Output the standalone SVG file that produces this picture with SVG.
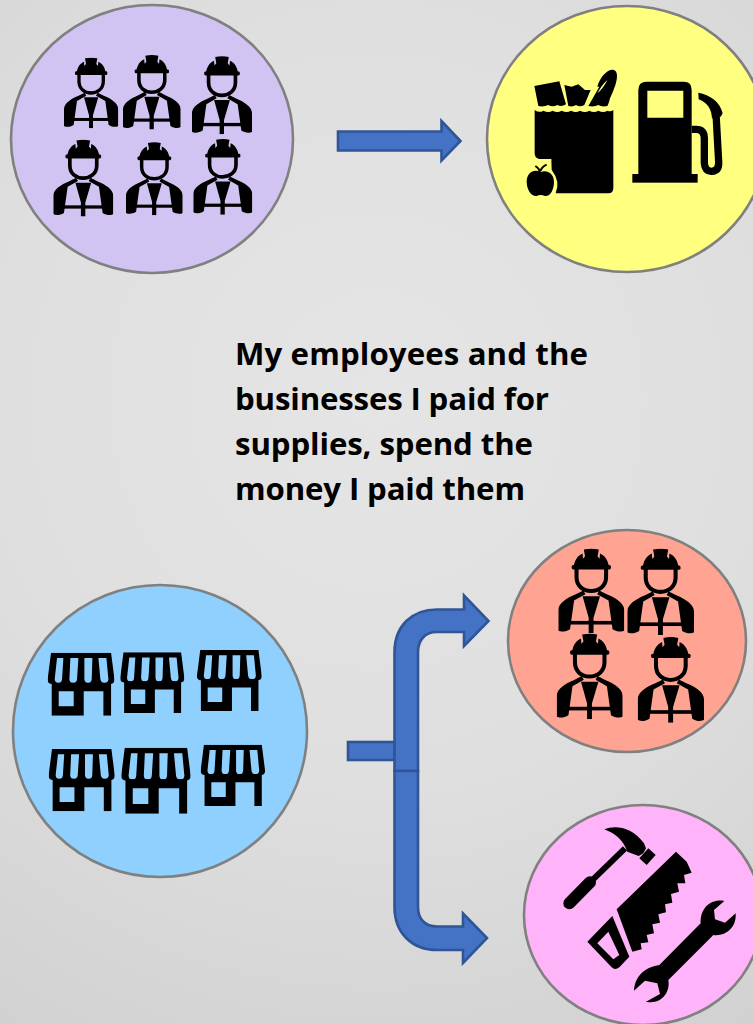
<svg xmlns="http://www.w3.org/2000/svg" width="753" height="1024" viewBox="0 0 753 1024">
<style>
.c{stroke:#808080;stroke-width:2.6}
.a{fill:#4472c4;stroke:#2f5597;stroke-width:2.6;stroke-linejoin:miter}
.t{font-family:"Open Sans","Liberation Sans",sans-serif;font-weight:700;font-size:31.2px;fill:#000}
.k{fill:#000}
</style>
<defs>
<radialGradient id="bg" gradientUnits="userSpaceOnUse" cx="376" cy="400" r="760">
<stop offset="0" stop-color="#e5e5e5"/><stop offset="0.5" stop-color="#dfdfdf"/><stop offset="1" stop-color="#d0d0d0"/>
</radialGradient>
<symbol id="worker" viewBox="0 0 163 213" preserveAspectRatio="none">
<path class="k" d="M38,46C40,30 48,18 60,13L61,26L66,20L63,3Q82,-1 100,3L97,20L102,26L103,13C115,18 123,30 125,46Z"/>
<rect class="k" x="33" y="42" width="97" height="11" rx="4"/>
<path d="M45,50V72C45,95 62,107 81,107C100,107 118,95 118,72V50" fill="none" stroke="#000" stroke-width="10"/>
<path class="k" d="M0,206V155C0,138 22,124 42,116L62,106L67,115L39,131L29,203C18,210 6,210 0,206Z"/>
<path class="k" d="M163,206V155C163,138 141,124 121,116L101,106L96,115L124,131L134,203C145,210 157,210 163,206Z"/>
<path class="k" d="M60,120H103L87,174V213H75V174Z"/>
<rect class="k" x="25" y="182" width="113" height="9"/>
</symbol>
<symbol id="shop" viewBox="0 0 200 189" preserveAspectRatio="none">
<path class="k" fill-rule="evenodd" d="M10,0H190L200,78Q202,94 186,94H14Q-2,94 0,78ZM28,16L21,80Q22,91 32,91Q42,91 43,80L47,16ZM68,16L65,80Q66,91 76,91Q87,91 88,80L92,16ZM110,16L110,80Q111,91 121,91Q131,91 132,80L134,16ZM152,16L158,80Q160,91 170,91Q181,91 182,80L176,16Z"/>
<path class="k" fill-rule="evenodd" d="M12,90H190V189H167V116H108V189H12ZM33,116V161H78V116Z"/>
</symbol>
</defs>
<rect id="background" width="753" height="1024" fill="url(#bg)"/>

<g id="connectors">
<path class="a" d="M338,131.500H441.500V121L460.500,141L441.500,160.500V150.500H338Z"/>
<rect class="a" x="348" y="742" width="47" height="18"/>
<path class="a" d="M394.500,771V652C394.500,626 412,609.500 437,609.500H464V595.500L488.500,621L464,646V632H437C425,632 418,640 418,652V771Z"/>
<path class="a" d="M394.500,771V907C394.500,933 412,950 437,950H463V963L487,938L463,913.500V926.500H437C425,926.500 418,919 418,907V771Z"/>
</g>

<g id="workers-circle">
<ellipse class="c" cx="152" cy="139" rx="141" ry="134" fill="#d2c4f2"/>
<use href="#worker" x="64" y="57.300" width="54.300" height="71"/>
<use href="#worker" x="123" y="54.700" width="57.700" height="74.700"/>
<use href="#worker" x="192" y="56" width="60" height="78.300"/>
<use href="#worker" x="53.300" y="139.300" width="60" height="77.300"/>
<use href="#worker" x="126" y="142" width="56.700" height="73.300"/>
<use href="#worker" x="193.300" y="138.700" width="59" height="76"/>
</g>

<g id="spending-circle">
<ellipse class="c" cx="627" cy="139" rx="140" ry="133" fill="#ffff80"/>
<g transform="translate(510,50) scale(.33333)">
<path class="k" d="M74,180Q88,190 100,182Q115,190 128,182Q142,190 155,182Q170,190 183,182Q198,190 210,182Q225,190 238,182Q252,190 265,182Q280,190 292,182Q302,186 310,180V415Q310,430 295,430H137Q152,395 125,360L124,327H88Q74,325 74,310Z"/>
<path class="k" d="M73,108L148,94L168,163Q155,172 142,165Q128,173 115,165Q100,172 85,168Z"/>
<path class="k" d="M163,105L185,110L205,103L225,120L242,120L223,165Q210,172 198,165Q188,172 175,168Z"/>
<path class="k" fill-rule="evenodd" d="M262,110C270,80 295,55 312,60C332,68 315,115 300,145Q295,165 292,168Q275,172 265,165Q252,172 235,168L268,110ZM292,90Q275,105 262,130Q280,115 292,90Z"/>
<path class="k" d="M92,366C70,355 50,370 50,395C50,420 65,440 80,438Q92,432 105,438C120,440 132,420 132,395C132,370 110,358 92,366Z"/>
<path d="M90,366Q88,355 76,348M92,362Q96,350 110,344" fill="none" stroke="#000" stroke-width="6"/>
<path class="k" fill-rule="evenodd" d="M385,375V120Q385,95 410,95H522Q545,95 545,120V375ZM412,122V203H520V122Z"/>
<rect class="k" x="367" y="372" width="196" height="26"/>
<path d="M545,238H558Q583,238 583,265V340Q585,365 605,364Q628,362 626,335L618,190" fill="none" stroke="#000" stroke-width="22"/>
<path class="k" d="M565,128C600,135 630,155 638,190L632,200L606,205C605,180 595,160 566,148Z"/>
</g>
</g>

<text class="t" x="235" y="365" textLength="353">My employees and the</text>
<text class="t" x="235" y="410" textLength="314">businesses I paid for</text>
<text class="t" x="235" y="455" textLength="298">supplies, spend the</text>
<text class="t" x="235" y="500" textLength="290">money I paid them</text>

<g id="shops-circle">
<ellipse class="c" cx="160" cy="731" rx="147" ry="146" fill="#8fd0ff"/>
<use href="#shop" x="47.700" y="652.700" width="66.700" height="63"/>
<use href="#shop" x="120.300" y="652.300" width="64" height="60.700"/>
<use href="#shop" x="197" y="650" width="64.700" height="61"/>
<use href="#shop" x="48.700" y="749" width="66" height="62.300"/>
<use href="#shop" x="121.300" y="747.700" width="69.300" height="66"/>
<use href="#shop" x="200.700" y="744.700" width="64.300" height="61.300"/>
</g>

<g id="employees-circle">
<ellipse class="c" cx="627" cy="641" rx="119" ry="111" fill="#ffa492"/>
<use href="#worker" x="558.300" y="548.300" width="66" height="85"/>
<use href="#worker" x="627.300" y="548.300" width="66.700" height="86.700"/>
<use href="#worker" x="556.700" y="633.300" width="66" height="86"/>
<use href="#worker" x="637.700" y="636.700" width="66.300" height="86"/>
</g>

<g id="supplies-circle">
<ellipse class="c" cx="643" cy="915" rx="119" ry="110" fill="#ffb3f9"/>
<g transform="translate(540,820) scale(.33333)">
<path d="M88,250L150,187" stroke="#000" stroke-width="36" stroke-linecap="round" fill="none"/>
<path d="M150,187L255,85" stroke="#000" stroke-width="18" fill="none"/>
<path class="k" d="M193,28C225,15 275,20 312,70L318,85L310,100L296,108L262,95C250,60 225,40 193,28Z"/>
<path class="k" d="M325,85L347,105L320,135L298,115Z"/>
<path class="k" d="M408,95L440,125L455,158L432,165L436,190L412,190L417,215L393,222L397,248L375,253L378,277L355,283L360,308L337,313L342,340L320,345L325,367L302,370L305,388L277,395L230,268Z"/>
<path class="k" fill-rule="evenodd" d="M217,288L142,365L215,442Q225,452 238,442L268,410ZM205,335L172,370L220,418L238,405Z"/>
<path class="k" d="M553,243C515,235 480,262 482,310L358,435C320,440 285,465 282,512L315,482L352,490L360,522L318,545C360,555 392,520 385,480L520,345C555,350 590,325 587,280L555,308L525,298L522,270Z"/>
</g>
</g>
</svg>
